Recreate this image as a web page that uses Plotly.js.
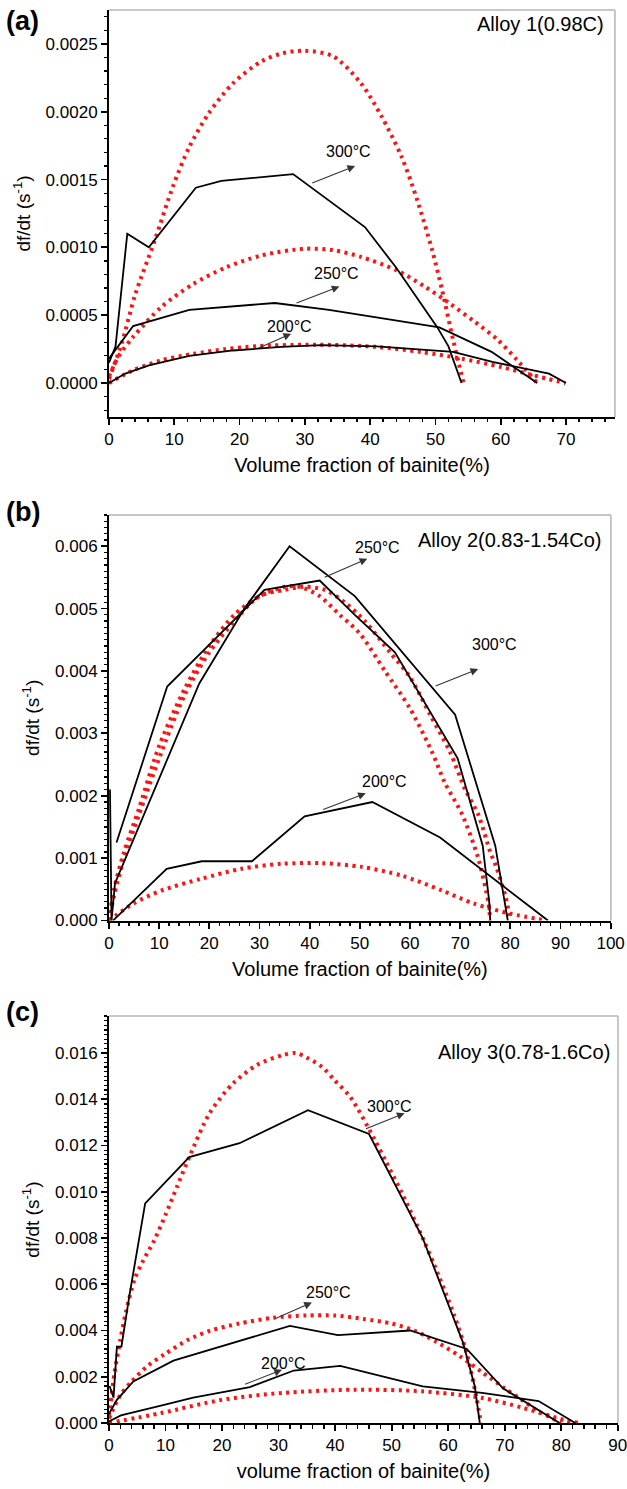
<!DOCTYPE html>
<html><head><meta charset="utf-8">
<script src="https://cdn.plot.ly/plotly-3.0.1.min.js"></script>
<style>html,body{margin:0;padding:0;background:#fff}#chart{width:627px;height:1489px}</style>
</head><body><div id="chart"></div>
<script>
// ---------- Panel (a) Alloy 1(0.98C) ----------
const a300BlackX = [0, 1, 2.8, 6.1, 13.3, 17.2, 28.2, 39.2, 44, 47, 50.3, 52, 53, 54];
const a300BlackY = [0.00015, 0.00027, 0.0011, 0.0010, 0.00144, 0.00149, 0.00154, 0.00115, 0.00085, 0.00064, 0.00041, 0.00027, 0.00014, 0];
const a250BlackX = [0, 3.7, 12.3, 25.4, 33.7, 50.6, 58.6, 65.6];
const a250BlackY = [0.00018, 0.00042, 0.00054, 0.00059, 0.00054, 0.00041, 0.00023, 0];
const a200BlackX = [0, 2.5, 6.1, 12.3, 19, 26.4, 32.5, 41, 52.7, 58.9, 67.4, 70];
const a200BlackY = [0, 0.00007, 0.00013, 0.0002, 0.00024, 0.000266, 0.00028, 0.00027, 0.00023, 0.000155, 0.000069, 0];
const a300RedX = [0, 2, 4, 7, 9.8, 12.3, 15.3, 19, 23.3, 26.5, 29.9, 34.3, 38.6, 41.7, 44.8, 47.2, 49.5, 51, 52.7, 53.6, 54.3];
const a300RedY = [0.00003, 0.0003, 0.00065, 0.00105, 0.00145, 0.00174, 0.00199, 0.00221, 0.00237, 0.00243, 0.00245, 0.00241, 0.00221, 0.00197, 0.00167, 0.00135, 0.00098, 0.00069, 0.00032, 0.00014, 0];
const a250RedX = [0, 1.5, 3.7, 8, 12.9, 17.8, 23.3, 30, 34.3, 38.6, 44.1, 48.4, 52.1, 55.8, 59.5, 62.5, 65.6];
const a250RedY = [0.00005, 0.0002, 0.00034, 0.00056, 0.00073, 0.00085, 0.00094, 0.00099, 0.00098, 0.00093, 0.00083, 0.00071, 0.00059, 0.00046, 0.00032, 0.00017, 0];
const a200RedX = [0, 3.7, 8, 12.9, 17.8, 22.7, 31.9, 41.1, 47.8, 54, 60.1, 65, 69.9];
const a200RedY = [0, 0.000094, 0.000167, 0.000215, 0.00025, 0.000272, 0.000283, 0.000266, 0.000229, 0.00018, 0.000118, 0.000057, 0];

// ---------- Panel (b) Alloy 2(0.83-1.54Co) ----------
const b300BlackX = [0.2, 0.5, 1.2, 9, 18, 27, 36, 49, 69, 77, 79.5];
const b300BlackY = [0.0021, 0, 0.0006, 0.0021, 0.0038, 0.0050, 0.0060, 0.0052, 0.0033, 0.0012, 0];
const b250BlackX = [1.5, 11.6, 31, 42, 49, 57, 69.5, 74.5, 75.8, 76];
const b250BlackY = [0.00125, 0.00375, 0.0053, 0.00545, 0.0049, 0.0043, 0.0026, 0.0012, 0.0003, 0];
const b200BlackX = [0.8, 11.5, 18.5, 28.5, 39, 52.5, 66, 87.5];
const b200BlackY = [0, 0.00083, 0.00095, 0.00095, 0.00167, 0.0019, 0.00133, 0];
const b300RedX = [0, 1, 3, 6, 10, 15, 20, 25, 30, 35, 39, 43, 47, 51, 56, 60, 64, 68, 71, 73.6, 76, 77.2, 79, 80];
const b300RedY = [0, 0.0004, 0.001, 0.0017, 0.0026, 0.0036, 0.0043, 0.0048, 0.0052, 0.0053, 0.00535, 0.0053, 0.0051, 0.0048, 0.0043, 0.0039, 0.0033, 0.0027, 0.0021, 0.0017, 0.0011, 0.00086, 0.0004, 0];
const b250RedX = [0, 1, 3, 6, 10, 15, 20, 25, 30, 35, 38, 42, 46, 50, 55, 60, 64.4, 67, 70.4, 73.6, 75.6, 76];
const b250RedY = [0, 0.0005, 0.0011, 0.0018, 0.0028, 0.0037, 0.0044, 0.0049, 0.0052, 0.00535, 0.00535, 0.0052, 0.0049, 0.0046, 0.0040, 0.0034, 0.0027, 0.0022, 0.0017, 0.001, 0.0003, 0];
const b200RedX = [0, 4.8, 10.4, 18.4, 26.4, 34.4, 42.4, 50.4, 58.4, 66.4, 72.8, 80, 87.2];
const b200RedY = [0, 0.00027, 0.00048, 0.00067, 0.00083, 0.00091, 0.00092, 0.00086, 0.00072, 0.00048, 0.00027, 0.00011, 0];

// ---------- Panel (c) Alloy 3(0.78-1.6Co) ----------
const c300BlackX = [0.1, 0.8, 1.4, 2.2, 3.6, 6.4, 14.2, 23.1, 35.2, 46, 55.5, 59, 62.6, 64.7, 65.6];
const c300BlackY = [0.0016, 0.0011, 0.0033, 0.0033, 0.0055, 0.0095, 0.0115, 0.0121, 0.01353, 0.0125, 0.008, 0.0058, 0.0035, 0.0016, 0];
const c250BlackX = [0, 1.4, 4.3, 11.4, 32, 40.5, 53.3, 63.3, 69.7, 74, 79.7];
const c250BlackY = [0.0004, 0.001, 0.0018, 0.0027, 0.0042, 0.0038, 0.004, 0.0032, 0.0015, 0.00086, 0];
const c200BlackX = [0, 2.1, 9.2, 14.9, 24.9, 32.7, 40.9, 55.5, 66, 76, 82.5];
const c200BlackY = [0.00007, 0.00033, 0.00075, 0.0011, 0.00155, 0.00227, 0.00247, 0.00158, 0.0013, 0.00095, 0];
const c300RedX = [0, 1, 2, 3, 4.5, 6, 8, 10, 12, 14.2, 17.8, 22, 26.3, 30.6, 33, 35, 37.7, 40, 42.7, 46.9, 49, 51.9, 55.5, 57.6, 61, 63.3, 65, 65.8];
const c300RedY = [0.0003, 0.0022, 0.0036, 0.0048, 0.0062, 0.0070, 0.0079, 0.009, 0.0102, 0.0115, 0.0134, 0.0147, 0.0155, 0.0159, 0.016, 0.0158, 0.0154, 0.0148, 0.0141, 0.0123, 0.0113, 0.0099, 0.008, 0.0068, 0.0047, 0.003, 0.0011, 0];
const c250RedX = [0, 2, 4, 7, 10, 14, 18, 23, 29, 35, 40, 45, 50, 54, 58, 62, 66, 70, 73, 76, 78.5, 80];
const c250RedY = [0.0002, 0.0012, 0.0018, 0.0025, 0.003, 0.0036, 0.004, 0.0043, 0.00455, 0.00465, 0.00465, 0.0045, 0.0043, 0.004, 0.0035, 0.0029, 0.0022, 0.0015, 0.001, 0.0005, 0.0002, 0];
const c200RedX = [0, 9.2, 19.9, 30.6, 43.4, 55.5, 66.1, 73.3, 80.4, 83.2];
const c200RedY = [0, 0.00043, 0.001, 0.0013, 0.00144, 0.00137, 0.00108, 0.00065, 0.00014, 0];

const FONT = 'Arial, "Liberation Sans", sans-serif';
const RED = '#ff1212';

function blk(x, y, n) {
  return {x: x, y: y, xaxis: 'x' + n, yaxis: 'y' + n, mode: 'lines', type: 'scatter',
    line: {color: '#000', width: 1.8}, hoverinfo: 'skip', showlegend: false};
}
function red(x, y, n) {
  return {x: x, y: y, xaxis: 'x' + n, yaxis: 'y' + n, mode: 'lines', type: 'scatter',
    line: {color: RED, width: 4, dash: '3px,4.5px', shape: 'spline', smoothing: 0.8}, hoverinfo: 'skip', showlegend: false};
}
const traces = [
  red(a300RedX, a300RedY, ''), red(a250RedX, a250RedY, ''), red(a200RedX, a200RedY, ''),
  blk(a300BlackX, a300BlackY, ''), blk(a250BlackX, a250BlackY, ''), blk(a200BlackX, a200BlackY, ''),
  red(b300RedX, b300RedY, '2'), red(b250RedX, b250RedY, '2'), red(b200RedX, b200RedY, '2'),
  blk(b300BlackX, b300BlackY, '2'), blk(b250BlackX, b250BlackY, '2'), blk(b200BlackX, b200BlackY, '2'),
  red(c300RedX, c300RedY, '3'), red(c250RedX, c250RedY, '3'), red(c200RedX, c200RedY, '3'),
  blk(c300BlackX, c300BlackY, '3'), blk(c250BlackX, c250BlackY, '3'), blk(c200BlackX, c200BlackY, '3')
];

function xax(domain, range, yref, title) {
  return {domain: domain, range: range, anchor: yref, dtick: 10, tick0: 0, ticklabeloverflow: 'allow',
    showline: true, linecolor: '#000', linewidth: 2, ticks: 'outside', ticklen: 6, tickwidth: 1.8, tickcolor: '#000',
    minor: {dtick: 2, ticks: 'outside', ticklen: 3.5, tickwidth: 1.5, tickcolor: '#000'},
    showgrid: false, zeroline: false, tickfont: {family: FONT, size: 17, color: '#000'},
    title: {text: title, font: {family: FONT, size: 20, color: '#000'}, standoff: 10}};
}
function yax(domain, range, xref, dtick, minor, fmt) {
  return {domain: domain, range: range, anchor: xref, dtick: dtick, tick0: 0, tickformat: fmt,
    showline: true, linecolor: '#000', linewidth: 2, ticks: 'outside', ticklen: 6, tickwidth: 1.8, tickcolor: '#000',
    minor: {dtick: minor, ticks: 'outside', ticklen: 3.5, tickwidth: 1.2, tickcolor: '#000'},
    showgrid: false, zeroline: false, tickfont: {family: FONT, size: 17, color: '#000'},
    title: {text: 'df/dt (s<sup>-1</sup>)', font: {family: FONT, size: 19, color: '#000'}, standoff: 10}};
}

function lbl(text, x, y, n) {
  return {text: text, x: x, y: y, xref: 'x' + n, yref: 'y' + n, showarrow: false,
    font: {family: FONT, size: 16, color: '#000'}};
}
function arr(x0, y0, x1, y1, n) {
  return {text: '', x: x1, y: y1, ax: x0, ay: y0, xref: 'x' + n, yref: 'y' + n, axref: 'x' + n, ayref: 'y' + n,
    showarrow: true, arrowhead: 2, arrowsize: 1.4, arrowwidth: 1.1, arrowcolor: '#333'};
}
function corner(text, xfrac, yfrac, n) {
  return {text: text, x: xfrac, y: yfrac, xref: 'x' + n + ' domain', yref: 'y' + n + ' domain', xanchor: 'right', yanchor: 'middle',
    showarrow: false, font: {family: FONT, size: 20, color: '#000'}};
}
function panel(text, y) {
  return {text: '<b>' + text + '</b>', x: -0.207, y: y, xref: 'paper', yref: 'paper', xanchor: 'left', yanchor: 'middle',
    showarrow: false, font: {family: FONT, size: 27, color: '#000'}};
}
function frame(n) {
  const ln = {color: '#b4b4b4', width: 1.5};
  return [
    {type: 'line', xref: 'x' + n + ' domain', yref: 'y' + n + ' domain', x0: 0, x1: 1, y0: 1, y1: 1, line: ln},
    {type: 'line', xref: 'x' + n + ' domain', yref: 'y' + n + ' domain', x0: 1, x1: 1, y0: 0, y1: 1, line: ln}
  ];
}

const layout = {
  width: 627, height: 1489, margin: {l: 109, r: 9, t: 10, b: 66},
  paper_bgcolor: '#fff', plot_bgcolor: '#fff', showlegend: false,
  xaxis: xax([0, 0.994], [0, 77.5], 'y', 'Volume fraction of bainite(%)'),
  yaxis: yax([0.712, 1], [-0.00025, 0.00275], 'x', 0.0005, 0.0001, '.4f'),
  xaxis2: xax([0, 0.986], [0, 100.05], 'y2', 'Volume fraction of bainite(%)'),
  yaxis2: yax([0.3556, 0.6426], [0, 0.0065], 'x2', 0.001, 0.0001, '.3f'),
  xaxis3: xax([0, 1], [0, 90.05], 'y3', 'volume fraction of bainite(%)'),
  yaxis3: yax([0, 0.288], [0, 0.0176], 'x3', 0.002, 0.0002, '.3f'),
  shapes: [].concat(frame(''), frame('2'), frame('3')),
  annotations: [
    panel('(a)', 0.992), panel('(b)', 0.645), panel('(c)', 0.291),
    corner('Alloy 1(0.98C)', 0.982, 0.966, ''),
    corner('Alloy 2(0.83-1.54Co)', 0.985, 0.938, '2'),
    corner('Alloy 3(0.78-1.6Co)', 0.988, 0.911, '3'),
    lbl('300°C', 36.7, 0.00171, ''), arr(30.9, 0.00147, 37.7, 0.00160, ''),
    lbl('250°C', 34.8, 0.00081, ''), arr(28.5, 0.000585, 35.3, 0.000712, ''),
    lbl('200°C', 27.7, 0.000418, ''), arr(22.7, 0.000253, 27.9, 0.000364, ''),
    lbl('250°C', 53.5, 0.00598, '2'), arr(42.7, 0.00549, 51.5, 0.0058, '2'),
    lbl('300°C', 76.8, 0.00442, '2'), arr(64.8, 0.00375, 73.6, 0.00403, '2'),
    lbl('200°C', 55, 0.00223, '2'), arr(42.4, 0.00177, 51.2, 0.00204, '2'),
    lbl('300°C', 49.6, 0.0137, '3'), arr(45.2, 0.0127, 52.3, 0.0134, '3'),
    lbl('250°C', 38.8, 0.00564, '3'), arr(29.2, 0.00449, 35.9, 0.00521, '3'),
    lbl('200°C', 30.9, 0.00259, '3'), arr(23.8, 0.00165, 30.6, 0.0023, '3')
  ]
};
Plotly.newPlot('chart', traces, layout, {staticPlot: true, displayModeBar: false});
</script></body></html>
